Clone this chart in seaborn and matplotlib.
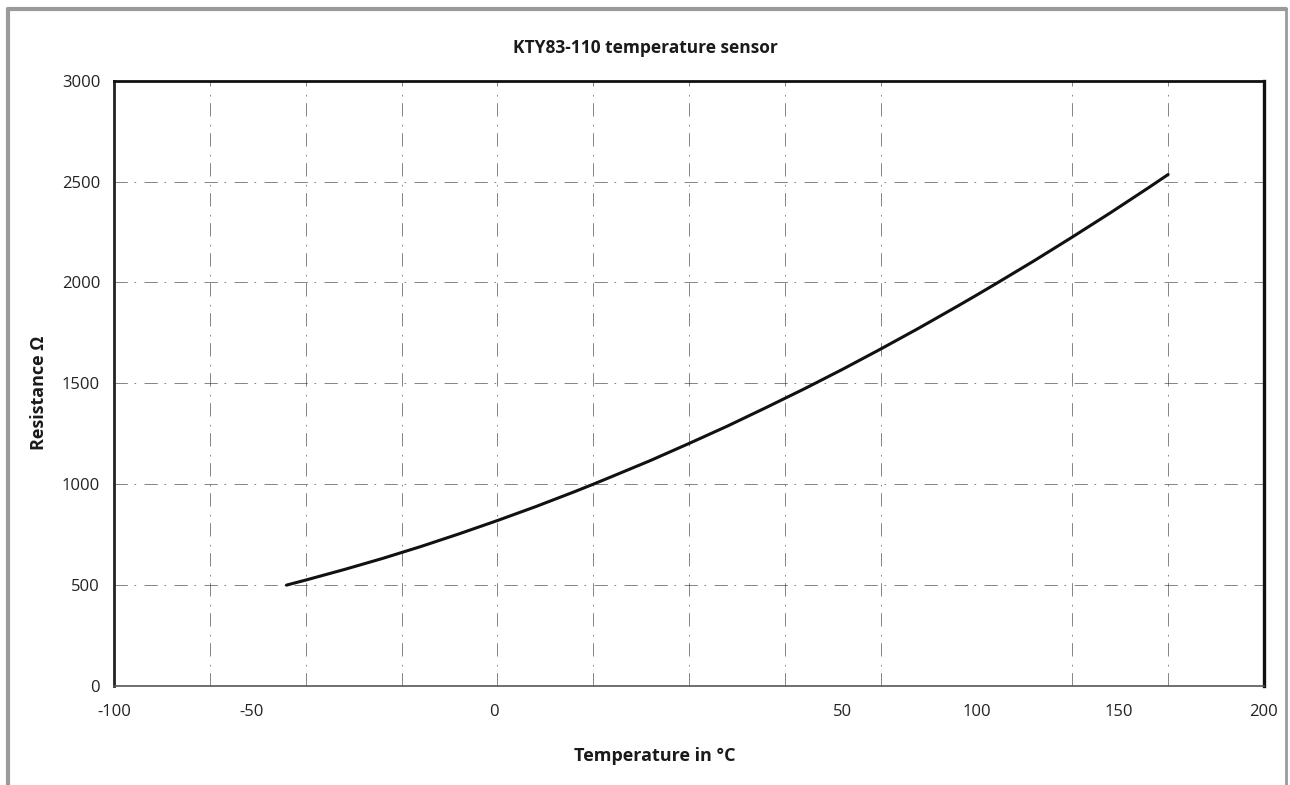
import numpy as np
import pandas as pd
import matplotlib
matplotlib.use("Agg")
import matplotlib.pyplot as plt
from matplotlib.lines import Line2D
import seaborn as sns

# KTY83-110 resistance curve
temperature = [-55, -50, -40, -30, -20, -10, 0, 10, 20, 25, 30, 40, 50, 60, 70,
               80, 90, 100, 110, 120, 125, 130, 140, 150, 160, 170, 175]
resistance = [500, 525, 577, 632, 691, 754, 820, 889, 962, 1000, 1039, 1118, 1202,
              1288, 1379, 1472, 1569, 1670, 1774, 1882, 1937, 1993, 2107, 2225,
              2346, 2471, 2535]

# x tick labels sit at odd places in the original chart
xlabel_pos = [-100, -64, -1, 90, 125, 162, 200]
xlabel_text = ["-100", "-50", "0", "50", "100", "150", "200"]
ytick_vals = [0, 500, 1000, 1500, 2000, 2500, 3000]

df = pd.DataFrame({"Temperature": temperature, "Resistance": resistance})

sns.set_style("white")
plt.rcParams["font.family"] = ["Open Sans", "DejaVu Sans"]

fig = plt.figure(figsize=(12.9, 7.85), dpi=100)
ax = fig.add_axes([0.0884, 0.1261, 0.8914, 0.7711])

sns.lineplot(data=df, x="Temperature", y="Resistance", ax=ax,
             color="#111111", linewidth=2.2)

ax.set_xlim(-100, 200)
ax.set_ylim(0, 3000)

ax.set_xticks(xlabel_pos)
ax.set_xticklabels(xlabel_text)
ax.set_xticks(np.arange(-100, 201, 25), minor=True)
ax.set_yticks(ytick_vals)
ax.set_yticklabels([str(v) for v in ytick_vals])

ax.tick_params(axis="x", which="major", length=0, pad=13, labelsize=12, colors="#222222")
ax.tick_params(axis="x", which="minor", length=3, width=1, color="#444444", direction="inout")
ax.tick_params(axis="y", which="major", length=5, width=1, pad=5, labelsize=12,
               color="#555555", labelcolor="#222222")

# broken, scanned-looking grid
grid_style = dict(color="#333333", linewidth=0.6, linestyle=(0, (16, 8, 2, 10)), alpha=0.7)
ax.grid(False)
ax.xaxis.grid(True, which="minor", **grid_style)
ax.yaxis.grid(True, which="major", **grid_style)
ax.set_axisbelow(True)

for side, lw, col in [("top", 2.0, "#111111"), ("right", 2.4, "#111111"),
                      ("left", 2.0, "#222222"), ("bottom", 1.2, "#555555")]:
    ax.spines[side].set_visible(True)
    ax.spines[side].set_linewidth(lw)
    ax.spines[side].set_color(col)

ax.set_title("KTY83-110 temperature sensor", fontsize=12.5, fontweight="bold",
             color="#1a1a1a", pad=20, x=0.462)
ax.set_xlabel("Temperature in °C", fontsize=13, fontweight="bold", color="#1a1a1a")
ax.set_ylabel("Resistance Ω", fontsize=13, fontweight="bold", color="#1a1a1a")
ax.xaxis.set_label_coords(0.47, -0.1)
ax.yaxis.set_label_coords(-0.057, 0.485)

# grey page frame around the chart
fig.add_artist(Line2D([8 / 1290, 8 / 1290], [0, 1 - 9 / 785], transform=fig.transFigure,
                      color="#9a9a9a", linewidth=3))
fig.add_artist(Line2D([8 / 1290, 1286 / 1290], [1 - 9 / 785, 1 - 9 / 785],
                      transform=fig.transFigure, color="#9a9a9a", linewidth=3))
fig.add_artist(Line2D([1286 / 1290, 1286 / 1290], [0, 1 - 9 / 785], transform=fig.transFigure,
                      color="#9a9a9a", linewidth=2))

fig.savefig("out.png", dpi=100, facecolor="white")
